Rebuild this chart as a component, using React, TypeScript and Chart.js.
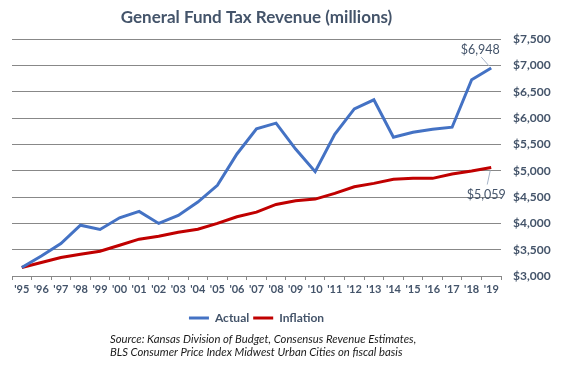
import React, { useEffect, useRef } from "react";
import { Chart, registerables } from "chart.js";

Chart.register(...registerables);

const years = ["'95","'96","'97","'98","'99","'00","'01","'02","'03","'04","'05","'06","'07","'08","'09","'10","'11","'12","'13","'14","'15","'16","'17","'18","'19"];
const actual = [3160,3381,3617,3965,3883,4105,4226,3998,4150,4403,4721,5317,5793,5902,5410,4980,5692,6174,6345,5635,5730,5787,5825,6726,6948];
const inflation = [3160,3255,3350,3413,3470,3584,3699,3756,3832,3889,3998,4124,4213,4359,4428,4460,4569,4695,4759,4835,4854,4854,4936,4993,5059];
const titleText = "General Fund Tax Revenue (millions)";
const sourceLines = [
  "Source: Kansas Division of Budget, Consensus Revenue Estimates,",
  "BLS Consumer Price Index Midwest Urban Cities on fiscal basis",
];

const FONT = "Lato, 'Open Sans', 'Liberation Sans', sans-serif";
const SLATE = "#44546A";
const GRID = "#888888";
const BLUE = "#4472C4";
const RED = "#C00000";

const fmt = (v: number) => "$" + Math.round(v).toLocaleString("en-US");

const extrasPlugin = {
  id: "extras",
  afterDraw(chart: any) {
    const ctx = chart.ctx;
    const xs = chart.scales.x;
    const ys = chart.scales.y;
    const last = years.length - 1;
    const px = xs.getPixelForValue(last);
    const pa = ys.getPixelForValue(actual[last]);
    const pi = ys.getPixelForValue(inflation[last]);
    ctx.save();
    ctx.strokeStyle = "#A6B4C8";
    ctx.lineWidth = 1;
    ctx.beginPath();
    ctx.moveTo(px - 10, pa - 11);
    ctx.lineTo(px - 2, pa - 2);
    ctx.moveTo(px - 1, pi + 3);
    ctx.lineTo(px - 4, pi + 17);
    ctx.stroke();
    ctx.font = "12.5px " + FONT;
    ctx.fillStyle = SLATE;
    ctx.textAlign = "center";
    ctx.textBaseline = "middle";
    ctx.fillText(fmt(actual[last]), px - 11, pa - 18);
    ctx.fillText(fmt(inflation[last]), px - 5, pi + 27);
    ctx.font = "italic 11.3px " + FONT;
    ctx.fillStyle = "#1a1a1a";
    ctx.textAlign = "left";
    ctx.fillText(sourceLines[0], 110, 339);
    ctx.fillText(sourceLines[1], 110, 352);
    ctx.restore();
  },
};

export default function App() {
  const ref = useRef<HTMLCanvasElement | null>(null);
  useEffect(() => {
    document.body.style.margin = "0";
    const chart = new Chart(ref.current as HTMLCanvasElement, {
      type: "line",
      data: {
        labels: years,
        datasets: [
          { label: "Actual", data: actual, borderColor: BLUE, backgroundColor: BLUE, borderWidth: 3, pointRadius: 0, tension: 0 },
          { label: "Inflation", data: inflation, borderColor: RED, backgroundColor: RED, borderWidth: 3, pointRadius: 0, tension: 0 },
        ],
      },
      options: {
        responsive: false,
        animation: false,
        layout: { padding: { left: 12, right: 0, top: 0, bottom: 31 } },
        plugins: {
          tooltip: { enabled: false },
          title: {
            display: true,
            fullSize: false,
            text: titleText,
            color: SLATE,
            font: { family: FONT, size: 17, weight: "bold" },
            padding: { top: 7, bottom: 11.6 },
          },
          legend: {
            display: true,
            fullSize: false,
            position: "bottom",
            labels: {
              color: SLATE,
              font: { family: FONT, size: 12, weight: "bold" },
              boxWidth: 20,
              boxHeight: 3,
              padding: 4,
              generateLabels: (c: any) =>
                c.data.datasets.map((d: any, i: number) => ({
                  text: d.label,
                  fillStyle: d.borderColor,
                  strokeStyle: d.borderColor,
                  lineWidth: 0,
                  fontColor: SLATE,
                  datasetIndex: i,
                  hidden: false,
                })),
            },
          },
        },
        scales: {
          x: {
            offset: true,
            grid: { display: true, drawOnChartArea: false, drawTicks: true, tickLength: 4, offset: true, color: GRID },
            border: { display: true, color: GRID },
            ticks: { color: SLATE, font: { family: FONT, size: 11, weight: "bold" }, padding: 3, maxRotation: 0, autoSkip: false },
            afterFit: (s: any) => { s.height = 32; },
          },
          y: {
            position: "right",
            min: 3000,
            max: 7500,
            grid: { color: GRID, drawTicks: false },
            border: { display: false },
            ticks: {
              stepSize: 500,
              padding: 12,
              color: SLATE,
              font: { family: FONT, size: 12, weight: "bold" },
              callback: (v: any) => fmt(Number(v)),
            },
            afterFit: (s: any) => { s.width = 62; },
          },
        },
      },
      plugins: [extrasPlugin],
    } as any);
    return () => chart.destroy();
  }, []);
  return (
    <div style={{ position: "absolute", left: 0, top: 0, width: 563, height: 365, background: "#fff" }}>
      <canvas ref={ref} width={563} height={365} style={{ width: 563, height: 365 }} />
    </div>
  );
}
